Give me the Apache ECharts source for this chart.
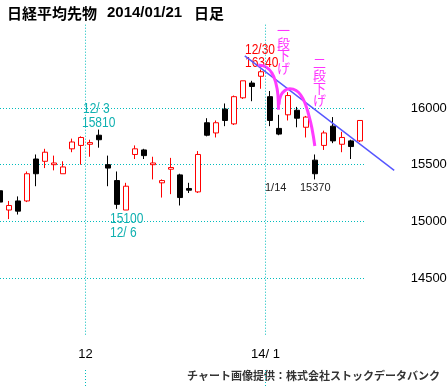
<!DOCTYPE html>
<html>
<head>
<meta charset="utf-8">
<script src="https://cdn.jsdelivr.net/npm/echarts@6/dist/echarts.min.js"></script>
<style>
html,body{margin:0;padding:0;background:#fff;}
#c{width:448px;height:387px;}
</style>
</head>
<body>
<div id="c"></div>
<script>
// ---- data ----
const dates = ['2013/11/18','2013/11/19','2013/11/20','2013/11/21','2013/11/22','2013/11/25','2013/11/26','2013/11/27','2013/11/28','2013/11/29',
  '2013/12/02','2013/12/03','2013/12/04','2013/12/05','2013/12/06','2013/12/09','2013/12/10','2013/12/11','2013/12/12','2013/12/13',
  '2013/12/16','2013/12/17','2013/12/18','2013/12/19','2013/12/20','2013/12/24','2013/12/25','2013/12/26','2013/12/27','2013/12/30',
  '2014/01/06','2014/01/07','2014/01/08','2014/01/09','2014/01/10','2014/01/14','2014/01/15','2014/01/16','2014/01/17','2014/01/20','2014/01/21'];
const openP  = [15270,15100,15180,15180,15550,15530,15500,15420,15640,15670,15680,15760,15500,15360,15100,15590,15630,15500,15340,15460,15410,15290,15260,15870,15780,15990,15860,16090,16220,16280,16100,15820,15940,15980,15830,15540,15670,15840,15680,15710,15710];
const closeP = [15170,15140,15090,15420,15420,15610,15515,15480,15700,15740,15695,15720,15470,15150,15310,15640,15580,15515,15360,15475,15210,15275,15590,15760,15870,15890,16100,16240,16190,16320,15890,15770,16110,15910,15920,15420,15780,15710,15740,15660,15890];
const lowP   = [15100,15020,15060,15170,15310,15470,15450,15420,15610,15500,15570,15650,15310,15110,15100,15550,15550,15370,15210,15240,15140,15250,15250,15750,15740,15840,15850,16080,16060,16170,15840,15760,15890,15830,15740,15370,15630,15690,15610,15550,15700];
const highP  = [15290,15180,15220,15440,15590,15640,15580,15530,15730,15750,15720,15810,15580,15440,15340,15670,15640,15570,15370,15560,15420,15340,15620,15910,15890,16040,16110,16240,16240,16340,16150,15940,16140,16010,15930,15590,15800,15920,15790,15720,15890];
const yMin = 14500, yMax = 16000, yStep = 500;
const xTickDates = ['2013/12/02','2014/01/06'];
const xTickText  = ['12','14/ 1'];
// annotation lines: [position in trading-day index, price]
const trendLine = [[27.2,16460],[43.8,15450]];
const arc1 = [[28.7,16380],[29.6,16360],[30.2,16310],[30.65,16220],[30.88,16115],[30.94,15985]];
const arc2 = [[31.0,16030],[31.2,16110],[31.65,16155],[32.2,16170],[32.9,16155],[33.45,16110],[33.9,16040],[34.3,15940],[34.65,15825],[34.98,15665]];

const ohlc = dates.map((d,i)=>[openP[i],closeP[i],lowP[i],highP[i]]);
const tickIdx = xTickDates.map(d=>dates.indexOf(d));
const PAD = 5; // extra trading-day slots to the right for the trend line

const AX = "'Liberation Sans',sans-serif";
const CJK = "'Noto Sans CJK JP',sans-serif";
const dotC = '#00bcbc';
const tealT = '#10b0b0';
const dotStyle = {color:dotC, type:[1,2], width:1};
const monthLines = {silent:true, symbol:['none','none'], label:{show:false}, lineStyle:dotStyle,
  data:tickIdx.map(t=>({xAxis:t-0.5}))};

function note(x, y, text, fill){
  return {type:'text', x:x, y:y, scaleX:0.8, style:{text:text, font:"15px 'Liberation Sans',sans-serif", fill:fill, align:'left', verticalAlign:'middle'}};
}

const chart = echarts.init(document.getElementById('c'), null, {renderer:'canvas'});
chart.setOption({
  animation:false,
  backgroundColor:'#fff',
  grid:[
    {left:-4.5, top:23, width:369, height:311.7, outerBoundsMode:'none', containLabel:false},
    {left:0, top:108, width:366, height:170, outerBoundsMode:'none', containLabel:false},
    {left:-4.5, top:370, width:9*(dates.length+PAD), height:40, outerBoundsMode:'none', containLabel:false},
    {left:-4.5, top:23, width:9*(dates.length+PAD), height:311.7, outerBoundsMode:'none', containLabel:false}
  ],
  xAxis:[
    {type:'category', gridIndex:0, data:dates, boundaryGap:true,
     axisLine:{show:false}, axisTick:{show:false}, axisLabel:{show:false}, splitLine:{show:false}},
    {type:'value', gridIndex:3, min:-0.5, max:dates.length+PAD-0.5, interval:10, position:'bottom',
     axisLine:{show:false}, axisTick:{show:false}, splitLine:{show:false},
     axisLabel:{show:true, margin:13, color:'#000', fontFamily:AX, fontSize:13,
       showMinLabel:true, showMaxLabel:true, hideOverlap:false,
       formatter:(v)=>{const k=tickIdx.findIndex(t=>Math.abs(t-0.5-v)<1e-6); return k>=0?xTickText[k]:'';}}},
    {type:'value', gridIndex:1, show:false, min:0, max:1},
    {type:'value', gridIndex:2, show:false, min:-0.5, max:dates.length+PAD-0.5}
  ],
  yAxis:[
    {type:'value', gridIndex:0, min:14000, max:16750, show:false, splitLine:{show:false}},
    {type:'value', gridIndex:1, min:yMin, max:yMax, interval:yStep, position:'right',
     axisLine:{show:false}, axisTick:{show:false},
     axisLabel:{margin:44.7, color:'#000', fontFamily:AX, fontSize:13, align:'left', formatter:(v)=>String(v)},
     splitLine:{show:true, lineStyle:dotStyle}},
    {type:'value', gridIndex:2, show:false, min:0, max:1, splitLine:{show:false}},
    {type:'value', gridIndex:3, min:14000, max:16750, show:false, splitLine:{show:false}}
  ],
  series:[
    {type:'candlestick', xAxisIndex:0, yAxisIndex:0, data:ohlc, barWidth:5,
     itemStyle:{color:'#ffffff', color0:'#000000', borderColor:'#ff0000', borderColor0:'#000000', borderWidth:1}},
    {type:'line', xAxisIndex:1, yAxisIndex:3, data:trendLine, symbol:'none',
     lineStyle:{color:'#5555ff', width:1.4}, markLine:monthLines},
    {type:'line', xAxisIndex:1, yAxisIndex:3, data:arc1, symbol:'none', smooth:0.5,
     lineStyle:{color:'#ff3cff', width:3}},
    {type:'line', xAxisIndex:1, yAxisIndex:3, data:arc2, symbol:'none', smooth:0.5,
     lineStyle:{color:'#ff3cff', width:3}},
    {type:'line', xAxisIndex:3, yAxisIndex:2, data:[], symbol:'none', markLine:monthLines}
  ],
  graphic:[
    {type:'text', x:7, y:13, style:{text:'日経平均先物', font:'bold 15px '+CJK, fill:'#000', align:'left', verticalAlign:'middle'}},
    {type:'text', x:107, y:13, style:{text:'2014/01/21', font:"bold 15px 'Liberation Sans',sans-serif", fill:'#000', align:'left', verticalAlign:'middle'}},
    {type:'text', x:194, y:13, style:{text:'日足', font:'bold 15px '+CJK, fill:'#000', align:'left', verticalAlign:'middle'}},
    note(83, 109, '12/ 3', tealT),
    note(82, 123, '15810', tealT),
    note(110, 219, '15100', tealT),
    note(110, 233, '12/ 6', tealT),
    note(245, 49.5, '12/30', '#ff0000'),
    note(245, 63, '16340', '#ff0000'),
    {type:'text', x:265, y:188, style:{text:'1/14', font:"11px 'Liberation Sans',sans-serif", fill:'#222', align:'left', verticalAlign:'middle'}},
    {type:'text', x:300, y:188, style:{text:'15370', font:"11px 'Liberation Sans',sans-serif", fill:'#222', align:'left', verticalAlign:'middle'}},
    {type:'text', x:283.5, y:49, style:{text:'一\n段\n下\nげ', font:'13px '+CJK, lineHeight:12.6, fill:'#ff33ff', align:'center', verticalAlign:'middle'}},
    {type:'text', x:319.5, y:81.5, style:{text:'二\n段\n下\nげ', font:'13px '+CJK, lineHeight:12.6, fill:'#ff33ff', align:'center', verticalAlign:'middle'}},
    {type:'text', x:440, y:375.5, style:{text:'チャート画像提供：株式会社ストックデータバンク', font:'bold 11px '+CJK, fill:'#333', align:'right', verticalAlign:'middle'}}
  ]
});
</script>
</body>
</html>
